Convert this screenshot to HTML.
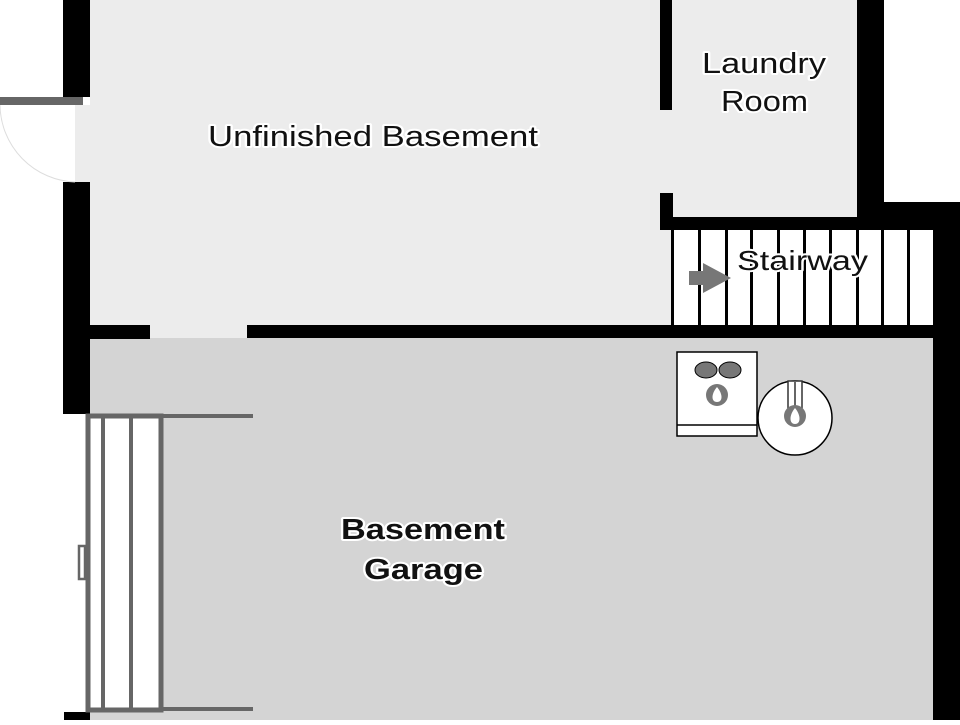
<!DOCTYPE html>
<html><head><style>
body{margin:0;width:960px;height:720px;overflow:hidden;background:#fff}
svg text{font-family:"Liberation Sans","DejaVu Sans",sans-serif;fill:#111;paint-order:stroke;stroke:#fff;stroke-width:4px;stroke-linejoin:round}
</style></head><body>
<svg width="960" height="720" viewBox="0 0 960 720">
<rect x="90" y="0" width="570" height="325" fill="#ececec"/>
<rect x="75" y="105" width="15" height="77" fill="#ececec"/>
<rect x="150" y="325" width="97" height="15" fill="#ececec"/>
<rect x="660" y="110" width="12" height="83" fill="#ececec"/>
<rect x="660" y="230" width="12" height="95" fill="#ececec"/>
<rect x="672" y="0" width="185" height="217" fill="#ececec"/>
<rect x="90" y="338" width="843" height="382" fill="#d4d4d4"/>
<rect x="63" y="0" width="27" height="97" fill="#000"/>
<rect x="63" y="182" width="27" height="232" fill="#000"/>
<rect x="64" y="712" width="26" height="8" fill="#000"/>
<rect x="0" y="97" width="83" height="8" fill="#666"/>
<path d="M0 105 A78 78 0 0 0 75 182" fill="none" stroke="#ddd" stroke-width="1"/>
<rect x="90" y="325" width="60" height="14" fill="#000"/>
<rect x="247" y="325" width="686" height="13" fill="#000"/>
<rect x="660" y="0" width="12" height="110" fill="#000"/>
<rect x="660" y="193" width="13" height="37" fill="#000"/>
<rect x="660" y="217" width="224" height="13" fill="#000"/>
<rect x="857" y="0" width="27" height="230" fill="#000"/>
<rect x="884" y="202" width="76" height="28" fill="#000"/>
<rect x="933" y="202" width="27" height="518" fill="#000"/>
<rect x="672" y="230" width="261" height="95" fill="#fff"/>
<g fill="#000">
<rect x="671" y="230" width="3" height="95"/><rect x="698" y="230" width="3" height="95"/>
<rect x="725" y="230" width="3" height="95"/><rect x="750" y="230" width="3" height="95"/>
<rect x="777" y="230" width="3" height="95"/><rect x="803" y="230" width="3" height="95"/>
<rect x="829" y="230" width="3" height="95"/><rect x="856" y="230" width="3" height="95"/>
<rect x="881" y="230" width="3" height="95"/><rect x="907" y="230" width="3" height="95"/>
</g>
<path d="M689 271 H703 V263 L731 278 L703 293 V285 H689 Z" fill="#777"/>
<text x="737" y="270" font-size="28" textLength="131" lengthAdjust="spacingAndGlyphs">Stairway</text>
<rect x="677" y="352" width="80" height="84" fill="#fff" stroke="#000" stroke-width="1.5"/>
<line x1="677" y1="425" x2="757" y2="425" stroke="#000" stroke-width="1.5"/>
<ellipse cx="706" cy="370" rx="11" ry="8" fill="#777" stroke="#000"/>
<ellipse cx="730" cy="370" rx="11" ry="8" fill="#777" stroke="#000"/>
<circle cx="717" cy="395" r="11" fill="#777"/>
<path d="M717 387 C711 394 711 402 717 402 C723 402 723 394 717 387Z" fill="#fff"/>
<circle cx="795" cy="418" r="37" fill="#fff" stroke="#000" stroke-width="1.5"/>
<rect x="788" y="381" width="14" height="30" fill="#fff" stroke="#333" stroke-width="1.5"/>
<rect x="794" y="381" width="2" height="30" fill="#666"/>
<circle cx="795" cy="416" r="11" fill="#777"/>
<path d="M795 408 C789 415 789 424 795 424 C801 424 801 415 795 408Z" fill="#fff"/>
<rect x="88" y="416" width="73" height="294" fill="#fff" stroke="#666" stroke-width="5"/>
<rect x="101" y="416" width="4" height="294" fill="#666"/>
<rect x="129" y="416" width="4" height="294" fill="#666"/>
<rect x="161" y="414" width="92" height="4" fill="#666"/>
<rect x="161" y="707" width="92" height="4" fill="#666"/>
<rect x="79" y="546" width="6" height="33" fill="#fff" stroke="#666" stroke-width="2.5"/>
<text x="208" y="146" font-size="29" textLength="330" lengthAdjust="spacingAndGlyphs">Unfinished Basement</text>
<text x="702" y="73" font-size="29" textLength="124" lengthAdjust="spacingAndGlyphs">Laundry</text>
<text x="721" y="111" font-size="29" textLength="87" lengthAdjust="spacingAndGlyphs">Room</text>
<text x="341" y="539" font-size="29" font-weight="bold" textLength="164" lengthAdjust="spacingAndGlyphs">Basement</text>
<text x="364" y="579" font-size="29" font-weight="bold" textLength="119" lengthAdjust="spacingAndGlyphs">Garage</text>
</svg>
</body></html>
